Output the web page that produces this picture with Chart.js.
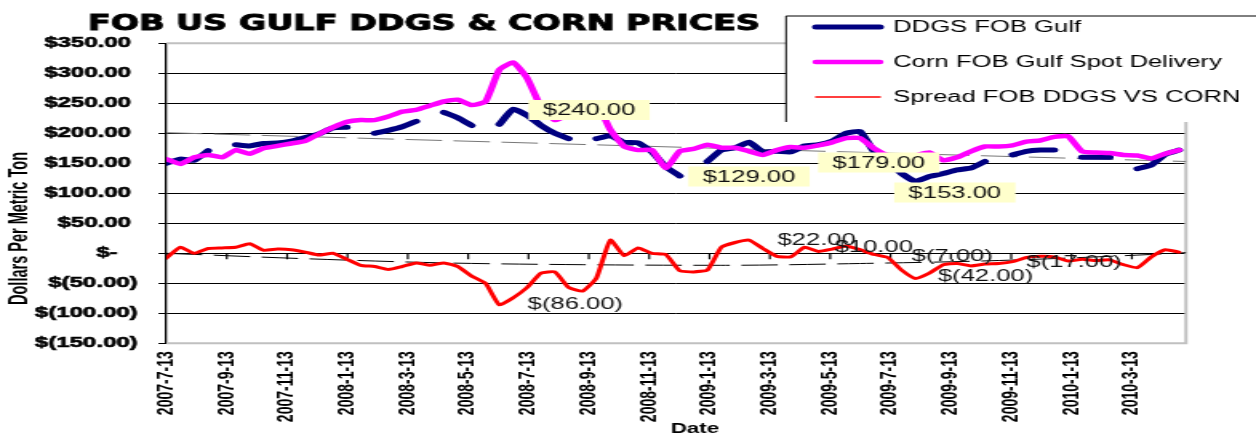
<!DOCTYPE html>
<html>
<head>
<meta charset="utf-8">
<script src="https://cdn.jsdelivr.net/npm/chart.js@4/dist/chart.umd.min.js"></script>
<style>
  html, body { margin: 0; padding: 0; background: #fff; overflow: hidden; }
  /* the original chart was stretched sideways, so draw narrow and stretch */
  .stretch { width: 785px; height: 436px; transform: scaleX(1.6); transform-origin: 0 0; }
</style>
</head>
<body>
<div class="stretch"><canvas id="chart"></canvas></div>
<script>
// one value every 2 weeks, first one 2007-7-13
const step = 2;
const weeksPerLabel = 8.7;
const dateLabels = [
  "2007-7-13", "2007-9-13", "2007-11-13", "2008-1-13", "2008-3-13", "2008-5-13",
  "2008-7-13", "2008-9-13", "2008-11-13", "2009-1-13", "2009-3-13", "2009-5-13",
  "2009-7-13", "2009-9-13", "2009-11-13", "2010-1-13", "2010-3-13",
];

const ddgs = [
  150, 157, 155, 171, null, 181, 179, 183, 184, 187,
  193, 199, 209, 210, null, 200, 205, 211, 220, null,
  235, 226, 213, null, 215, 240, 230, 213, 200, 191,
  null, 191, 196, 185, 184, 169, 144, 129, null, 153,
  172, 176, 185, 169, 170, 169, 179, 181, 187, 200,
  203, 170, 153, 133, 120, 128, 133, 139, 142, 153,
  null, 164, 170, 172, 172, null, 160, 160, 160, null,
  141, 147, 165, 172,
];

const corn = [
  157, 149, 160, 164, 160, 172, 166, 175, 179, 183,
  187, 199, 210, 219, 222, 222, 228, 236, 239, 246,
  253, 256, 247, 253, 306, 318, 292, 244, 222, 232,
  250, 250, 206, 178, 172, 172, 142, 170, 174, 181,
  176, 176, 170, 164, 172, 177, 176, 180, 185, 192,
  192, 175, 163, 158, 163, 168, 155, 160, 170, 178,
  178, 180, 186, 188, 194, 195, 170, 168, 167, 164,
  163, 158, 166, 172,
];

const spread = [
  -8, 10, 0, 8, 9, 10, 16, 5, 7, 6,
  2, -3, 0, -10, -20, -22, -27, -22, -16, -20,
  -16, -22, -38, -50, -86, -74, -57, -33, -31, -57,
  -63, -41, 22, -4, 9, 0, -2, -29, -31, -28,
  10, 18, 22, 8, -5, -6, 10, 3, 7, 12,
  6, -2, -7, -28, -42, -33, -19, -17, -21, -18,
  -17, -14, -7, -5, -6, -13, -10, -12, -11, -19,
  -24, -6, 6, 2,
];

// trend lines
const priceTrendWeeks = [0, 147];
const priceTrend = [201, 153];
const spreadTrendWeeks = [0, 20, 40, 60, 80, 100, 120, 140, 147];
const spreadTrend = [0, -9, -16, -19, -20, -17, -12, -3, 1];

// labelled points: dataset, week
const callouts = [
  { ds: 0, week: 50, dx: 18.5, dy: 0.7, box: true },
  { ds: 0, week: 74, dx: 14.4, dy: 0.6, box: true },
  { ds: 0, week: 92, dx: 17.5, dy: 16.6, box: true },
  { ds: 0, week: 104, dx: 13, dy: 31, box: true },
  { ds: 2, week: 48, dx: 17.7, dy: -1 },
  { ds: 2, week: 84, dx: 17.8, dy: -0.5 },
  { ds: 2, week: 92, dx: 18.8, dy: -0.3 },
  { ds: 2, week: 104, dx: 15, dy: -1.5 },
  { ds: 2, week: 108, dx: 14, dy: -2.5 },
  { ds: 2, week: 120, dx: 17.3, dy: -1.5 },
];

const toPoints = (vals) => vals.map((v, i) => ({ x: i * step, y: v }));
const pairPoints = (weeks, vals) => weeks.map((w, i) => ({ x: w, y: vals[i] }));

const money = (v) => {
  if (v === 0) return "$-";
  const s = Math.abs(v).toFixed(2);
  return v < 0 ? `$(${s})` : `$${s}`;
};

// accounting style: leave room for the ")" on positives
const yLabel = (v) => {
  if (v === 0) return "$-\u2007 ";
  return v > 0 ? money(v) + " " : money(v);
};

const FONT = "'Liberation Sans', Arial, sans-serif";

const decor = {
  id: "decor",
  beforeDatasetsDraw(chart) {
    const { ctx, chartArea: a, scales } = chart;
    ctx.save();
    ctx.strokeStyle = "#c0c0c0";
    ctx.lineWidth = 2;
    ctx.beginPath();
    ctx.moveTo(a.left, a.top);
    ctx.lineTo(a.right, a.top);
    ctx.lineTo(a.right, a.bottom);
    ctx.lineTo(a.left, a.bottom);
    ctx.stroke();

    // date axis crosses at zero
    const y0 = scales.y.getPixelForValue(0);
    ctx.strokeStyle = "#000";
    ctx.lineWidth = 1.2;
    scales.x.ticks.forEach((t) => {
      const px = scales.x.getPixelForValue(t.value);
      ctx.beginPath();
      ctx.moveTo(px, y0);
      ctx.lineTo(px, y0 + 6);
      ctx.stroke();
    });
    ctx.restore();
  },
  afterDatasetsDraw(chart) {
    const ctx = chart.ctx;
    ctx.save();
    ctx.font = `16px ${FONT}`;
    ctx.textBaseline = "middle";
    ctx.textAlign = "left";
    callouts.forEach((c) => {
      const idx = c.week / step;
      const pt = chart.getDatasetMeta(c.ds).data[idx];
      const val = chart.data.datasets[c.ds].data[idx].y;
      const text = money(val);
      const tx = pt.x + c.dx;
      const ty = pt.y + c.dy;
      if (c.box) {
        const w = ctx.measureText(text).width;
        ctx.fillStyle = "#ffffcc";
        ctx.fillRect(tx - 9, ty - 10, w + 18, 20);
      }
      ctx.fillStyle = "#111";
      ctx.fillText(text, tx, ty + 1);
    });
    ctx.restore();
  },
  afterDraw(chart) {
    const ctx = chart.ctx;
    ctx.save();

    // title
    const title = "FOB US GULF DDGS & CORN PRICES";
    ctx.font = "bold 21px 'DejaVu Sans', sans-serif";
    ctx.fillStyle = "#000";
    ctx.strokeStyle = "#000";
    ctx.lineWidth = 0.9;
    ctx.textBaseline = "alphabetic";
    ctx.textAlign = "left";
    const tw = ctx.measureText(title).width;
    ctx.save();
    ctx.translate(55, 30);
    ctx.scale(420 / tw, 1);
    ctx.fillText(title, 0, 0);
    ctx.strokeText(title, 0, 0);
    ctx.restore();

    // y axis title, condensed to the length it has in the picture
    ctx.font = `bold 16px ${FONT}`;
    ctx.textAlign = "center";
    ctx.textBaseline = "middle";
    const yt = "Dollars Per Metric Ton";
    const yw = ctx.measureText(yt).width;
    ctx.save();
    ctx.translate(12.5, 228.5);
    ctx.rotate(-Math.PI / 2);
    ctx.scale(153 / yw, 1);
    ctx.fillText(yt, 0, 0);
    ctx.restore();

    ctx.font = `bold 14px ${FONT}`;
    ctx.fillText("Date", 434.4, 429);

    // legend box over the top right of the plot
    const lx = 491.3, ly = 16;
    ctx.fillStyle = "#fff";
    ctx.fillRect(lx, ly, 800 - lx, 122 - ly);
    ctx.strokeStyle = "#000";
    ctx.lineWidth = 1;
    ctx.beginPath();
    ctx.moveTo(lx, 122);
    ctx.lineTo(lx, ly);
    ctx.lineTo(800, ly);
    ctx.stroke();

    const rows = [27, 62, 97];
    const widths = [5, 4.5, 1.5];
    ctx.font = `16px ${FONT}`;
    ctx.textAlign = "left";
    chart.data.datasets.slice(0, 3).forEach((ds, i) => {
      ctx.strokeStyle = ds.borderColor;
      ctx.lineWidth = widths[i];
      ctx.lineCap = "round";
      ctx.beginPath();
      ctx.moveTo(510, rows[i]);
      ctx.lineTo(550, rows[i]);
      ctx.stroke();
      ctx.fillStyle = "#000";
      ctx.fillText(ds.label, 558.3, rows[i] + 1);
    });
    ctx.restore();
  },
};

const lineBase = {
  pointRadius: 0,
  spanGaps: false,
  fill: false,
  tension: 0.15,
  borderCapStyle: "round",
  borderJoinStyle: "round",
};

new Chart(document.getElementById("chart"), {
  type: "line",
  data: {
    datasets: [
      { ...lineBase, label: "DDGS FOB Gulf", data: toPoints(ddgs), borderColor: "#000080", borderWidth: 5, order: 3 },
      { ...lineBase, label: "Corn FOB Gulf Spot Delivery", data: toPoints(corn), borderColor: "#ff00ff", borderWidth: 4.5, order: 2 },
      { ...lineBase, label: "Spread FOB DDGS VS CORN", data: toPoints(spread), borderColor: "#ff0000", borderWidth: 3, order: 1 },
      { ...lineBase, label: "price trend", data: pairPoints(priceTrendWeeks, priceTrend), borderColor: "#777", borderWidth: 1, borderDash: [22, 8], tension: 0, order: 5 },
      { ...lineBase, label: "spread trend", data: pairPoints(spreadTrendWeeks, spreadTrend), borderColor: "#000", borderWidth: 1, borderDash: [22, 8], cubicInterpolationMode: "monotone", order: 4 },
    ],
  },
  options: {
    responsive: true,
    maintainAspectRatio: false,
    animation: false,
    devicePixelRatio: 1,
    layout: { padding: { top: 43.3, right: 43.75, bottom: 0, left: 0 } },
    plugins: { legend: { display: false }, tooltip: { enabled: false } },
    scales: {
      x: {
        type: "linear",
        min: 0,
        max: 147,
        grid: { display: false, drawTicks: false },
        border: { display: false },
        afterBuildTicks: (s) => {
          s.ticks = dateLabels.map((_, i) => ({ value: i * weeksPerLabel }));
        },
        afterFit: (s) => { s.height = 436 - 343.3; },
        ticks: {
          autoSkip: false,
          minRotation: 90,
          maxRotation: 90,
          padding: 8,
          color: "#000",
          font: { family: FONT, size: 14, weight: "bold" },
          callback: (v, i) => dateLabels[i],
        },
      },
      y: {
        min: -150,
        max: 350,
        afterFit: (s) => { s.width = 104.06; },
        ticks: {
          stepSize: 50,
          padding: 13,
          color: "#000",
          textStrokeColor: "#000",
          textStrokeWidth: 0.6,
          font: { family: FONT, size: 15, weight: "bold" },
          callback: yLabel,
        },
        grid: {
          color: (c) => (c.tick && (c.tick.value === 350 || c.tick.value === -150) ? "rgba(0,0,0,0)" : "#000"),
          tickColor: "#000",
          tickLength: 5,
          lineWidth: 1,
        },
        border: { color: "#000", width: 1.3 },
      },
    },
  },
  plugins: [decor],
});
</script>
</body>
</html>
